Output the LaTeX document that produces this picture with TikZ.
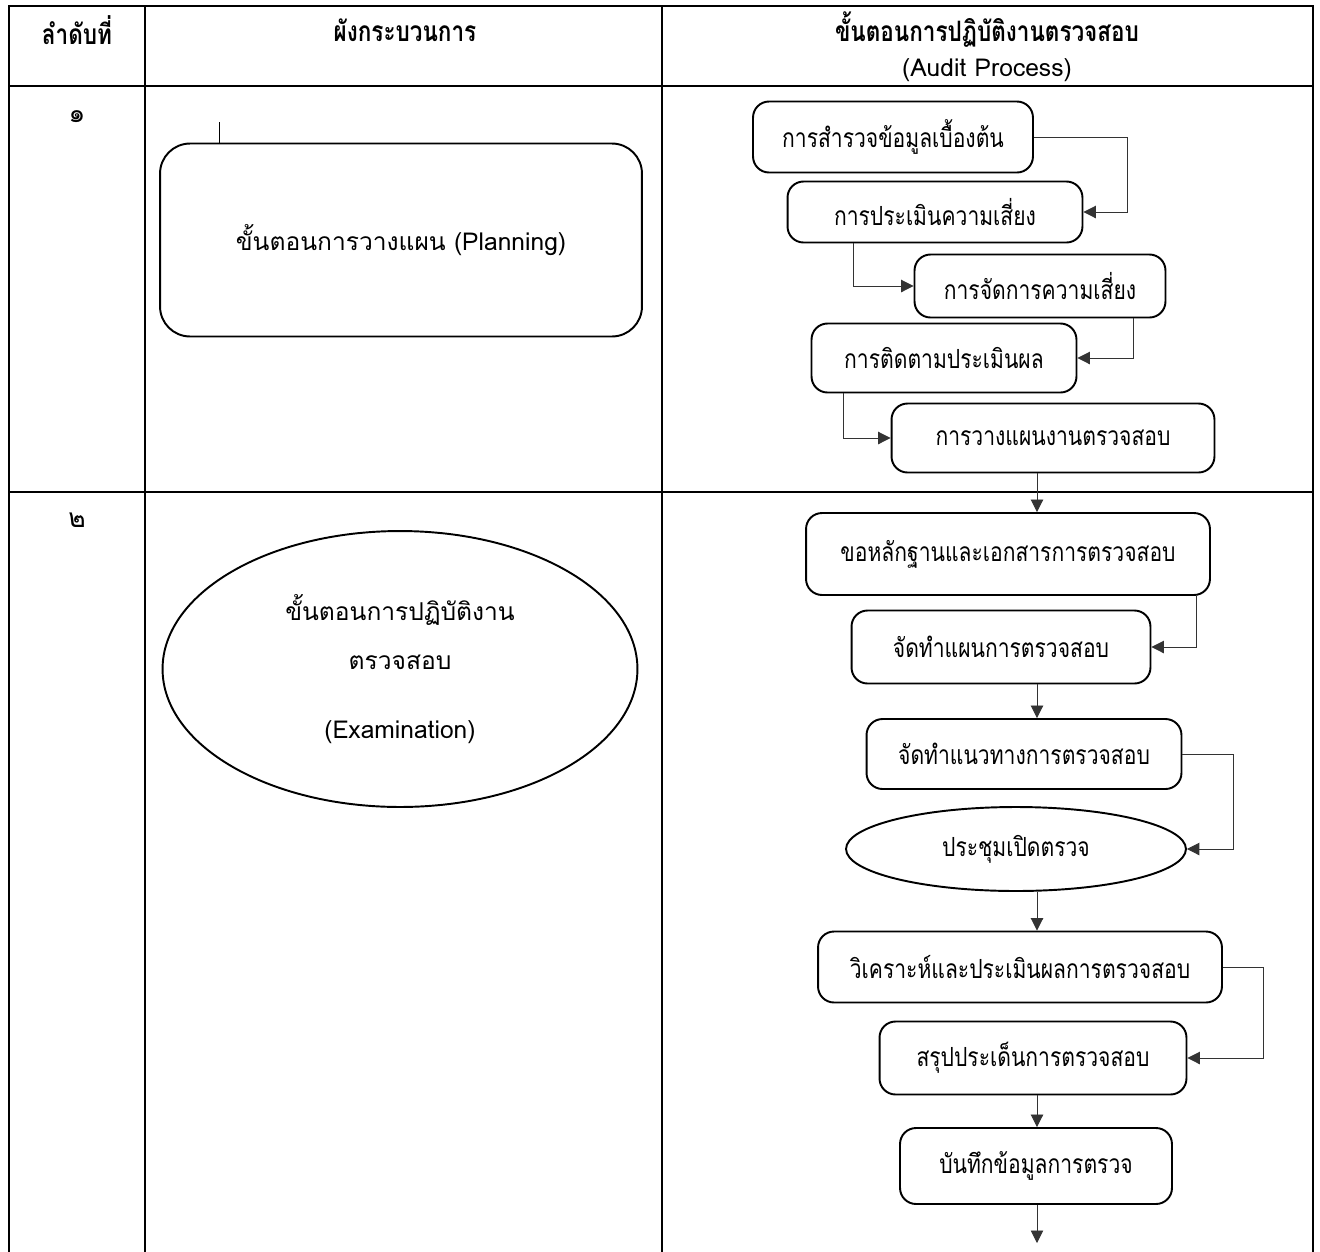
\documentclass[tikz,border=0pt]{standalone}
\usepackage{fontspec}
\setmainfont[Script=Thai]{Loma}
\newfontfamily\headfont[Script=Thai,FakeStretch=0.8]{Loma}
\usetikzlibrary{arrows.meta,shapes.geometric}

\begin{document}
\begin{tikzpicture}
  [x=0.02cm,y=-0.02cm,
   grid/.style={line width=0.9pt},
   head/.style={font=\headfont\bfseries\fontsize{16}{18}\selectfont},
   bigbox/.style={draw,line width=1.1pt,align=center,font=\fontsize{14}{16}\selectfont},
   stepbox/.style={draw,rounded corners=0.32cm,line width=1.1pt,inner sep=0pt,
                   font=\headfont\fontsize{15}{17}\selectfont},
   stepoval/.style={stepbox,ellipse,rounded corners=0pt},
   arr/.style={draw=black!80,line width=0.5pt,-{Triangle[length=2.5mm,width=2.5mm]}}]
  \useasboundingbox (0,0) rectangle (1320,1252);

  % table frame
  \draw[grid] (9,1252) -- (9,6) -- (1313,6) -- (1313,1252);
  \draw[grid] (9,86) -- (1313,86);
  \draw[grid] (9,492) -- (1313,492);
  \draw[grid] (145,6) -- (145,1252);
  \draw[grid] (662,6) -- (662,1252);

  % header
  \node[head] (hno) at (77,30) {ลำดับที่};
  \node[head] (hchart) at (405,30) {ผังกระบวนการ};
  \node[head] (hproc) at (987,30) {ขั้นตอนการปฏิบัติงานตรวจสอบ};
  \node[font=\fontsize{14}{16}\selectfont] (haudit) at (987,70) {(Audit Process)};
  \node[font=\fontsize{15}{17}\selectfont] (no1) at (77,117) {๑};
  \node[font=\fontsize{15}{17}\selectfont] (no2) at (77,520) {๒};

  % left column
  \node[bigbox,rounded corners=0.6cm,minimum width=9.64cm,minimum height=3.86cm]
    (plan) at (401,240) {ขั้นตอนการวางแผน (Planning)};
  \draw[line width=0.4pt] (plan.north -| 219,0) -- ++(0,-21);
  \node[bigbox,ellipse,minimum width=9.5cm,minimum height=5.52cm]
    (exam) at (400,669) {ขั้นตอนการปฏิบัติงาน\\[12pt]ตรวจสอบ\\[23pt](Examination)};

  % audit process
  \node[stepbox,minimum width=5.6cm,minimum height=1.42cm] (b1) at (893,137) {การสำรวจข้อมูลเบื้องต้น};
  \node[stepbox,minimum width=5.9cm,minimum height=1.22cm] (b2) at (935,212) {การประเมินความเสี่ยง};
  \node[stepbox,minimum width=5.02cm,minimum height=1.26cm] (b3) at (1040,286) {การจัดการความเสี่ยง};
  \node[stepbox,minimum width=5.3cm,minimum height=1.38cm] (b4) at (944,358) {การติดตามประเมินผล};
  \node[stepbox,minimum width=6.46cm,minimum height=1.38cm] (b5) at (1053,438) {การวางแผนงานตรวจสอบ};
  \node[stepbox,minimum width=8.08cm,minimum height=1.64cm] (b6) at (1008,554) {ขอหลักฐานและเอกสารการตรวจสอบ};
  \node[stepbox,minimum width=5.98cm,minimum height=1.46cm] (b7) at (1001,647) {จัดทำแผนการตรวจสอบ};
  \node[stepbox,minimum width=6.3cm,minimum height=1.40cm] (b8) at (1024,754) {จัดทำแนวทางการตรวจสอบ};
  \node[stepoval,minimum width=6.8cm,minimum height=1.68cm] (b9) at (1016,849) {ประชุมเปิดตรวจ};
  \node[stepbox,minimum width=8.08cm,minimum height=1.42cm] (b10) at (1020,967) {วิเคราะห์และประเมินผลการตรวจสอบ};
  \node[stepbox,minimum width=6.14cm,minimum height=1.46cm] (b11) at (1033,1058) {สรุปประเด็นการตรวจสอบ};
  \node[stepbox,minimum width=5.44cm,minimum height=1.52cm] (b12) at (1036,1166) {บันทึกข้อมูลการตรวจ};
  \coordinate (spine) at (1037,0);
  \coordinate (next) at (1037,1243);

  \draw[arr] (b1.east) -- ++(93,0) |- (b2.east);
  \draw[arr] (b2.south) ++(-82,0) |- (b3.west);
  \draw[arr] (b3.south) ++(93,0) |- (b4.east);
  \draw[arr] (b4.south) ++(-101,0) |- (b5.west);
  \draw[arr] (b6.south) ++(188,0) |- (b7.east);
  \draw[arr] (b8.east) -- ++(51,0) |- (b9.east);
  \draw[arr] (b10.east) -- ++(41,0) |- (b11.east);
  \foreach \from/\to in {b5/b6,b7/b8,b9/b10,b11/b12}
    \draw[arr] (\from.south -| spine) -- (\to.north -| spine);
  \draw[arr] (b12.south -| spine) -- (next);
\end{tikzpicture}
\end{document}
